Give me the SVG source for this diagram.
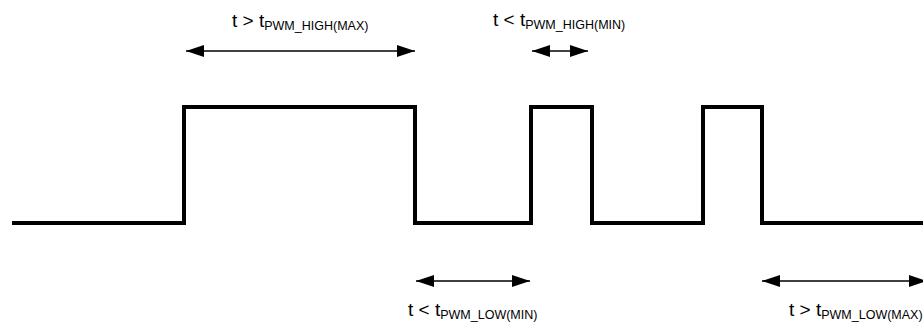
<svg xmlns="http://www.w3.org/2000/svg" width="923" height="322" viewBox="0 0 923 322">
  <style>
    .wave { fill: none; stroke: #000; stroke-width: 4; stroke-linejoin: miter; }
    .dim { stroke: #000; stroke-width: 1.5; marker-start: url(#ah); marker-end: url(#ah); }
    .lbl { font-family: "Liberation Sans", Arial, sans-serif; font-size: 19px; fill: #000; }
    .sub { font-size: 12.5px; }
  </style>
  <defs>
    <marker id="ah" markerUnits="userSpaceOnUse" markerWidth="20" markerHeight="14" refX="18" refY="6" orient="auto-start-reverse">
      <path d="M0,0 L18,6 L0,12 Z" fill="#000"/>
    </marker>
  </defs>
  <rect width="923" height="322" fill="#fff"/>
  <g id="waveform">
    <path class="wave" d="M12,223 H184 V107 H415 V223 H531 V107 H592 V223 H703 V107 H762 V223 H923"/>
  </g>
  <g id="connectors">
    <line class="dim" x1="186" y1="51" x2="415" y2="51"/>
    <line class="dim" x1="532" y1="51" x2="588" y2="51"/>
    <line class="dim" x1="416" y1="281" x2="530" y2="281"/>
    <line class="dim" x1="762" y1="281" x2="927" y2="281"/>
  </g>
  <g id="label-high-max">
    <text class="lbl" x="232" y="27">t &gt; t<tspan class="sub" dy="3">PWM_HIGH(MAX)</tspan></text>
  </g>
  <g id="label-high-min">
    <text class="lbl" x="493" y="26">t &lt; t<tspan class="sub" dy="3">PWM_HIGH(MIN)</tspan></text>
  </g>
  <g id="label-low-min">
    <text class="lbl" x="408" y="316">t &lt; t<tspan class="sub" dy="3">PWM_LOW(MIN)</tspan></text>
  </g>
  <g id="label-low-max">
    <text class="lbl" x="789" y="316">t &gt; t<tspan class="sub" dy="3">PWM_LOW(MAX)</tspan></text>
  </g>
</svg>
